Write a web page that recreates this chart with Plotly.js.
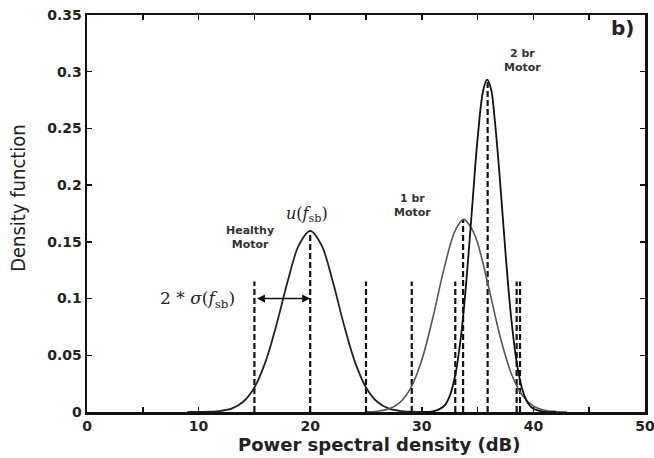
<!DOCTYPE html>
<html>
<head>
<meta charset="utf-8">
<script src="https://cdn.plot.ly/plotly-3.0.1.min.js"></script>
<style>html,body{margin:0;padding:0;background:#fff;}#chart{width:654px;height:458px;}</style>
</head>
<body>
<div id="chart"></div>
<script>
// Healthy motor density curve
const healthyX = [9, 10, 11, 12, 13, 14, 15, 16, 17, 18, 19, 20, 21, 22, 23, 24, 25, 26, 27, 28, 29, 30, 31];
const healthyY = [0.0000, 0.0001, 0.0002, 0.0010, 0.0032, 0.0090, 0.0216, 0.0444, 0.0777, 0.1159, 0.1473, 0.1596, 0.1473, 0.1159, 0.0777, 0.0444, 0.0216, 0.0090, 0.0032, 0.0010, 0.0002, 0.0001, 0.0000];
// 1 broken bar motor
const br1X = [25, 26, 27, 28, 29, 30, 31, 32, 33, 33.75, 34.5, 35, 36, 37, 38, 39, 40, 41, 42, 43];
const br1Y = [0.0001, 0.0007, 0.0026, 0.0081, 0.0211, 0.0459, 0.0835, 0.1266, 0.1602, 0.1698, 0.1610, 0.1490, 0.1096, 0.0672, 0.0344, 0.0147, 0.0052, 0.0016, 0.0004, 0.0000];
// 2 broken bar motor
const br2X = [30, 31, 32, 32.5, 33, 33.5, 34, 34.5, 35, 35.5, 35.85, 36.2, 36.5, 37, 37.5, 38, 38.5, 39, 39.5, 40, 41, 42];
const br2Y = [0.0000, 0.0005, 0.0053, 0.0141, 0.0326, 0.0659, 0.1162, 0.1790, 0.2410, 0.2834, 0.2930, 0.2850, 0.2614, 0.2050, 0.1404, 0.0840, 0.0439, 0.0200, 0.0080, 0.0028, 0.0002, 0.0000];
// Vertical dashed guides: mean and +/- 2 sigma
const guideX = [15, 20, 25, 29.1, 33.7, 38.5, 33.0, 35.9, 38.8];
const guideTop = [0.115, 0.16, 0.115, 0.115, 0.17, 0.115, 0.115, 0.292, 0.115];
// Axis ticks
const xTickVals = [0, 10, 20, 30, 40, 50];
const yTickVals = [0, 0.05, 0.1, 0.15, 0.2, 0.25, 0.3, 0.35];
const yTickText = ['0', '0.05', '0.1', '0.15', '0.2', '0.25', '0.3', '0.35'];

const gx = [], gy = [];
guideX.forEach((x, i) => { gx.push(x, x, null); gy.push(0, guideTop[i], null); });

const traces = [
  {x: gx, y: gy, mode: 'lines', line: {color: '#111', width: 2.2, dash: '6px,3px'}, hoverinfo: 'skip'},
  {x: healthyX, y: healthyY, mode: 'lines', line: {color: '#222', width: 1.8, shape: 'spline'}},
  {x: br1X, y: br1Y, mode: 'lines', line: {color: '#555', width: 1.6, shape: 'spline'}},
  {x: br2X, y: br2Y, mode: 'lines', line: {color: '#111', width: 1.8, shape: 'spline'}}
];

const tickFont = {family: 'DejaVu Sans, Arial, sans-serif', size: 14, color: '#222', weight: 'bold'};
const labFont = {family: 'DejaVu Sans, Arial, sans-serif', size: 11, color: '#333', weight: 'bold'};

const layout = {
  width: 654, height: 458,
  margin: {l: 87, r: 9, t: 15, b: 46},
  showlegend: false,
  paper_bgcolor: '#fff', plot_bgcolor: '#fff',
  xaxis: {
    range: [0, 50], tickvals: xTickVals, ticktext: xTickVals.map(String),
    ticks: 'inside', ticklen: 5, tickwidth: 1.5, tickcolor: '#111', ticklabeloverflow: 'allow',
    minor: {dtick: 5, tick0: 0, ticks: 'inside', ticklen: 5, tickwidth: 1.5, tickcolor: '#111'},
    showline: true, linecolor: '#111', linewidth: 2.5, mirror: 'allticks',
    showgrid: false, zeroline: false, tickfont: tickFont
  },
  yaxis: {
    range: [0, 0.35], tickvals: yTickVals, ticktext: yTickText,
    ticks: 'inside', ticklen: 5, tickwidth: 1.5, tickcolor: '#111',
    showline: true, linecolor: '#111', linewidth: 2.5, mirror: 'allticks',
    showgrid: false, zeroline: false, tickfont: tickFont
  },
  annotations: [
    {xref: 'paper', yref: 'paper', x: 0.525, y: -0.082, xanchor: 'center', yanchor: 'middle', showarrow: false,
     text: '<b>Power spectral density (dB)</b>', font: {family: 'DejaVu Sans, Arial, sans-serif', size: 18, color: '#222'}},
    {xref: 'paper', yref: 'paper', x: -0.125, y: 0.54, xanchor: 'center', yanchor: 'middle', textangle: -90, showarrow: false,
     text: 'Density function', font: {family: 'DejaVu Sans Condensed, Liberation Sans Narrow, sans-serif', size: 20, color: '#222'}},
    {xref: 'paper', yref: 'paper', x: 0.959, y: 0.967, xanchor: 'center', yanchor: 'middle', showarrow: false,
     text: '<b>b)</b>', font: {family: 'DejaVu Sans, Arial, sans-serif', size: 20, color: '#222'}},
    {xref: 'x', yref: 'y', x: 39.0, y: 0.3095, showarrow: false, text: '2 br<br>Motor', font: labFont},
    {xref: 'x', yref: 'y', x: 29.2, y: 0.1817, showarrow: false, text: '1 br<br>Motor', font: labFont},
    {xref: 'x', yref: 'y', x: 14.6, y: 0.1539, showarrow: false, text: 'Healthy<br>Motor', font: labFont},
    {xref: 'x', yref: 'y', x: 19.7, y: 0.1737, showarrow: false, text: '<i>u</i>(<i>f</i><sub>sb</sub>)',
     font: {family: 'DejaVu Serif, Liberation Serif, serif', size: 16, color: '#222'}},
    {xref: 'x', yref: 'y', x: 9.9, y: 0.0995, showarrow: false, text: '2 * <i>σ</i>(<i>f</i><sub>sb</sub>)',
     font: {family: 'DejaVu Serif, Liberation Serif, serif', size: 17, color: '#222'}},
    {xref: 'x', yref: 'y', x: 20, y: 0.1, ax: 15.1, ay: 0.1, axref: 'x', ayref: 'y', text: '',
     showarrow: true, arrowside: 'end+start', arrowhead: 2, arrowsize: 1, arrowwidth: 1.6, arrowcolor: '#111'}
  ]
};

Plotly.newPlot('chart', traces, layout, {staticPlot: true, displayModeBar: false});
</script>
</body>
</html>
